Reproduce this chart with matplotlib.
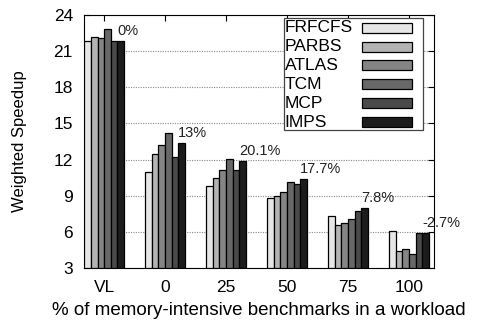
import numpy as np
import matplotlib
matplotlib.use('Agg')
import matplotlib.pyplot as plt
from matplotlib.patches import Rectangle

plt.rcParams['font.family'] = ['Liberation Sans', 'DejaVu Sans']

groups = ['VL', '0', '25', '50', '75', '100']
schemes = ['FRFCFS', 'PARBS', 'ATLAS', 'TCM', 'MCP', 'IMPS']
frfcfs = [21.8, 11.0, 9.8, 8.85, 7.35, 6.05]
parbs = [22.2, 12.5, 10.5, 8.95, 6.55, 4.4]
atlas = [22.1, 13.2, 11.1, 9.3, 6.7, 4.55]
tcm = [22.8, 14.2, 12.05, 10.1, 7.05, 4.2]
mcp = [21.8, 12.25, 11.1, 10.0, 7.75, 5.9]
imps = [21.8, 13.35, 11.85, 10.4, 7.95, 5.9]
gains = ['0%', '13%', '20.1%', '17.7%', '7.8%', '-2.7%']

series = [frfcfs, parbs, atlas, tcm, mcp, imps]
colors = ['#e6e6e6', '#b3b3b3', '#858585', '#686868', '#4a4a4a', '#1c1c1c']

fig = plt.figure(figsize=(4.8, 3.26), dpi=100)
ax = fig.add_axes([0.175, 0.178, 0.729, 0.776])

x = np.arange(len(groups))
w = 0.108
for i, (vals, c) in enumerate(zip(series, colors)):
    off = (i - 2.5) * w
    ax.bar(x + off, np.array(vals) - 3, w, bottom=3, color=c, edgecolor='black',
           linewidth=0.9, zorder=3)

# improvement of IMPS, written above its bar
for i, g in enumerate(gains):
    ax.text(x[i] + 2 * w, imps[i] + 0.25, g, ha='left', va='bottom',
            fontsize=10.5, color='#222222', zorder=5, clip_on=False)

ax.set_xlim(-0.33, 5.41)
ax.set_ylim(3, 24)
ax.set_yticks(range(3, 25, 3))
ax.set_xticks(x)
ax.set_xticklabels(groups)
ax.tick_params(direction='in', top=True, right=True, length=4, labelsize=12.5)
ax.tick_params(axis='x', pad=9)
ax.tick_params(axis='y', pad=8)
ax.yaxis.grid(True, linestyle=(0, (1, 1.2)), color='#888888', linewidth=0.8)
ax.set_axisbelow(True)
ax.set_ylabel('Weighted Speedup', fontsize=12, labelpad=19)
ax.set_xlabel('% of memory-intensive benchmarks in a workload', fontsize=13.5, labelpad=5)

# gnuplot-style key: labels left-aligned, swatches on the right
tr = ax.transAxes
ax.add_patch(Rectangle((0.571, 0.545), 0.398, 0.443, transform=tr, facecolor='white',
                       edgecolor='#444444', linewidth=0.9, zorder=6))
for i, (name, c) in enumerate(zip(schemes, colors)):
    yc = 0.95 - i * 0.0747
    ax.text(0.574, yc, name, transform=tr, ha='left', va='center',
            fontsize=12.5, zorder=7)
    ax.add_patch(Rectangle((0.794, yc - 0.0197), 0.143, 0.0395, transform=tr,
                           facecolor=c, edgecolor='black', linewidth=0.9, zorder=7))

fig.savefig('out.png', dpi=100)
